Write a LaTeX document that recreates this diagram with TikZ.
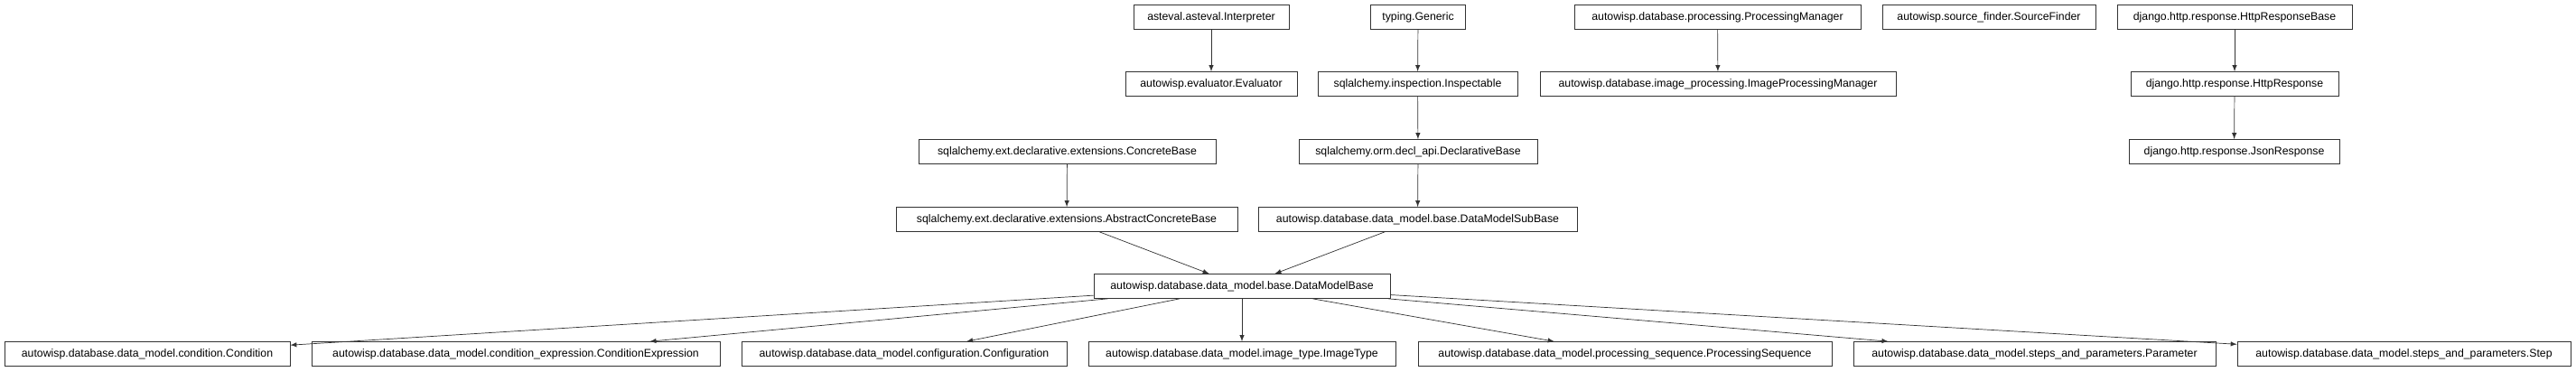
\documentclass[tikz,border=0pt]{standalone}
\usepackage{fontspec}
\setmainfont{Liberation Sans}
\usetikzlibrary{arrows}
\tikzset{>=latex}
\begin{document}
\begin{tikzpicture}
                % class boxes placed at pixel positions (1px = 0.02cm)
                \tikzset{cls/.style={rectangle, draw=black!80, line width=0.4pt, font=\fontsize{7}{8}\selectfont, minimum height=0.54cm, inner sep=1pt}}
                \tikzset{every edge/.style={draw=black!80, ->, line width=0.4pt}}
                \useasboundingbox (0,0) rectangle (57.04,-8.22);
                % row 1
                \node[cls, minimum width=3.44cm] (Interp) at (26.82,-0.38) {asteval.asteval.Interpreter};
                \node[cls, minimum width=2.10cm] (Generic) at (31.40,-0.38) {typing.Generic};
                \node[cls, minimum width=6.34cm] (ProcMgr) at (38.03,-0.38) {autowisp.database.processing.ProcessingManager};
                \node[cls, minimum width=4.72cm] (SrcFind) at (44.04,-0.38) {autowisp.source\_finder.SourceFinder};
                \node[cls, minimum width=5.20cm] (HttpBase) at (49.48,-0.38) {django.http.response.HttpResponseBase};
                % row 2
                \node[cls, minimum width=3.80cm] (Eval) at (26.82,-1.86) {autowisp.evaluator.Evaluator};
                \node[cls, minimum width=4.42cm] (Inspect) at (31.39,-1.86) {sqlalchemy.inspection.Inspectable};
                \node[cls, minimum width=7.88cm] (ImgProcMgr) at (38.04,-1.86) {autowisp.database.image\_processing.ImageProcessingManager};
                \node[cls, minimum width=4.60cm] (HttpResp) at (49.48,-1.86) {django.http.response.HttpResponse};
                % row 3
                \node[cls, minimum width=6.58cm] (Concrete) at (23.63,-3.36) {sqlalchemy.ext.declarative.extensions.ConcreteBase};
                \node[cls, minimum width=5.28cm] (DeclBase) at (31.40,-3.36) {sqlalchemy.orm.decl\_api.DeclarativeBase};
                \node[cls, minimum width=4.66cm] (JsonResp) at (49.47,-3.36) {django.http.response.JsonResponse};
                % row 4
                \node[cls, minimum width=7.56cm] (AbsConcrete) at (23.62,-4.86) {sqlalchemy.ext.declarative.extensions.AbstractConcreteBase};
                \node[cls, minimum width=7.06cm] (SubBase) at (31.39,-4.86) {autowisp.database.data\_model.base.DataModelSubBase};
                % row 5
                \node[cls, minimum width=6.56cm] (ModelBase) at (27.50,-6.34) {autowisp.database.data\_model.base.DataModelBase};
                % row 6
                \node[cls, minimum width=6.32cm] (Cond) at (3.26,-7.84) {autowisp.database.data\_model.condition.Condition};
                \node[cls, minimum width=9.04cm] (CondExpr) at (11.42,-7.84) {autowisp.database.data\_model.condition\_expression.ConditionExpression};
                \node[cls, minimum width=7.20cm] (Config) at (20.02,-7.84) {autowisp.database.data\_model.configuration.Configuration};
                \node[cls, minimum width=6.80cm] (ImgType) at (27.50,-7.84) {autowisp.database.data\_model.image\_type.ImageType};
                \node[cls, minimum width=9.16cm] (ProcSeq) at (35.98,-7.84) {autowisp.database.data\_model.processing\_sequence.ProcessingSequence};
                \node[cls, minimum width=8.02cm] (Param) at (45.05,-7.84) {autowisp.database.data\_model.steps\_and\_parameters.Parameter};
                \node[cls, minimum width=7.38cm] (Step) at (53.23,-7.84) {autowisp.database.data\_model.steps\_and\_parameters.Step};
                % inheritance edges
                \draw (Interp) edge (Eval);
                \draw (Generic) edge (Inspect);
                \draw (Inspect) edge (DeclBase);
                \draw (DeclBase) edge (SubBase);
                \draw (ProcMgr) edge (ImgProcMgr);
                \draw (HttpBase) edge (HttpResp);
                \draw (HttpResp) edge (JsonResp);
                \draw (Concrete) edge (AbsConcrete);
                \draw (AbsConcrete) edge (ModelBase);
                \draw (SubBase) edge (ModelBase);
                \draw (ModelBase) edge (Cond);
                \draw (ModelBase) edge (CondExpr);
                \draw (ModelBase) edge (Config);
                \draw (ModelBase) edge (ImgType);
                \draw (ModelBase) edge (ProcSeq);
                \draw (ModelBase) edge (Param);
                \draw (ModelBase) edge (Step);
\end{tikzpicture}
\end{document}
